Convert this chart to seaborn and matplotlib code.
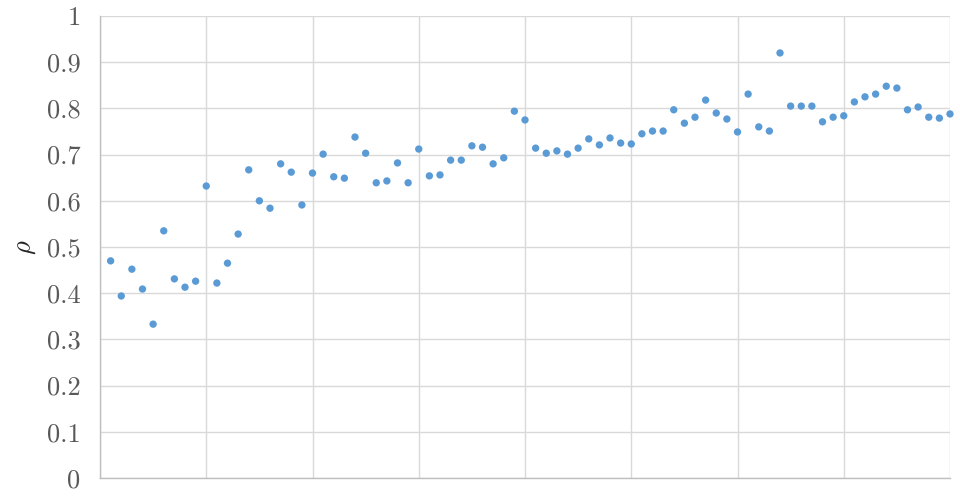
"""
Scatter of rho against step index, Excel-like styling.
"""

import matplotlib
matplotlib.use("Agg")
import matplotlib.pyplot as plt
import matplotlib.ticker as mtick
import pandas as pd
import seaborn as sns

# values, one per step (1..80)
STEPS = list(range(1, 81))
RHO = [
    0.470, 0.394, 0.452, 0.409, 0.333, 0.535, 0.431, 0.413, 0.426, 0.632,
    0.422, 0.465, 0.528, 0.667, 0.600, 0.584, 0.680, 0.662, 0.591, 0.660,
    0.701, 0.652, 0.649, 0.738, 0.703, 0.639, 0.643, 0.682, 0.639, 0.712,
    0.654, 0.656, 0.688, 0.688, 0.719, 0.716, 0.680, 0.693, 0.794, 0.775,
    0.714, 0.703, 0.708, 0.701, 0.714, 0.734, 0.721, 0.736, 0.725, 0.723,
    0.745, 0.751, 0.751, 0.797, 0.768, 0.781, 0.818, 0.790, 0.777, 0.749,
    0.831, 0.760, 0.751, 0.920, 0.805, 0.805, 0.805, 0.771, 0.781, 0.784,
    0.814, 0.825, 0.831, 0.848, 0.844, 0.797, 0.803, 0.781, 0.779, 0.788,
]
Y_TICKS = [0, 0.1, 0.2, 0.3, 0.4, 0.5, 0.6, 0.7, 0.8, 0.9, 1]
X_GRID = list(range(0, 81, 10))

DOT = "#5B9BD5"
GRID = "#D9D9D9"
TEXT = "#595959"

sns.set_theme(style="white")
plt.rcParams["mathtext.fontset"] = "cm"

df = pd.DataFrame({"step": STEPS, "rho": RHO})

fig = plt.figure(figsize=(9.6, 5), dpi=100)
ax = fig.add_axes([100 / 960, 22 / 500, 850 / 960, 462 / 500])

sns.scatterplot(data=df, x="step", y="rho", color=DOT, s=28,
                edgecolor="none", ax=ax, zorder=3, clip_on=False)

ax.set_xlim(0, 80)
ax.set_ylim(0, 1)
ax.set_xticks(X_GRID)
ax.set_xticklabels([])
ax.set_yticks(Y_TICKS)
ax.yaxis.set_major_formatter(mtick.FuncFormatter(lambda v, _: f"{v:g}"))
ax.tick_params(axis="x", length=0)
ax.tick_params(axis="y", length=0, pad=14, labelsize=19, labelcolor=TEXT)
for lbl in ax.get_yticklabels():
    lbl.set_fontfamily("cmr10")

ax.grid(True, color=GRID, linewidth=1)
ax.set_axisbelow(True)
for side in ["top", "right"]:
    ax.spines[side].set_visible(False)
for side in ["left", "bottom"]:
    ax.spines[side].set_color("#BFBFBF")
    ax.spines[side].set_linewidth(1)

ax.set_xlabel("")
ax.set_ylabel(r"$\rho$", fontsize=19, color="#262626", labelpad=6)

fig.savefig("out.png", dpi=100, facecolor="white")
